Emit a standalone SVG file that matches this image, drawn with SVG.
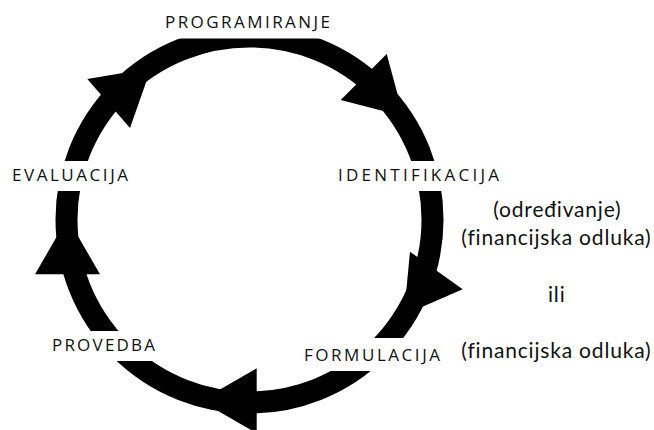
<svg xmlns="http://www.w3.org/2000/svg" width="654" height="430" viewBox="0 0 654 430">
  <style>
    .ring { fill: none; stroke: #000; stroke-width: 22; }
    .head { fill: #000; stroke: none; }
    .bg { fill: #fff; stroke: none; }
    .lbl { font-family: "Open Sans", "Liberation Sans", sans-serif; font-size: 17px; fill: #111; }
    .note { font-family: "Lato", "Liberation Sans", sans-serif; font-size: 21px; fill: #111; font-variant-ligatures: none; }
  </style>
  <rect width="654" height="430" fill="#fff"/>
  <g id="connectors">
    <circle class="ring" cx="249.5" cy="219.5" r="183"/>
    <polygon class="head" points="87.3,79 130,128 151,68.3"/>
    <polygon class="head" points="386.7,54 340.7,100 403.5,116.2"/>
    <polygon class="head" points="410,251.7 462.7,289.3 404,314.7"/>
    <polygon class="head" points="256.7,368.3 256.7,433.3 200.4,400.8"/>
    <polygon class="head" points="35,274.3 100,274.3 67.5,218"/>
  </g>
  <g id="programiranje">
    <rect class="bg" x="155" y="0" width="185" height="38.5"/>
    <text class="lbl" x="165" y="28.3" textLength="165" lengthAdjust="spacing">PROGRAMIRANJE</text>
  </g>
  <g id="identifikacija">
    <rect class="bg" x="330" y="161" width="177" height="30"/>
    <text class="lbl" x="338" y="181" textLength="161" lengthAdjust="spacing">IDENTIFIKACIJA</text>
  </g>
  <g id="formulacija">
    <rect class="bg" x="296" y="338" width="152" height="33"/>
    <text class="lbl" x="304" y="361" textLength="136" lengthAdjust="spacing">FORMULACIJA</text>
  </g>
  <g id="provedba">
    <rect class="bg" x="44" y="331" width="119" height="30"/>
    <text class="lbl" x="52" y="351" textLength="103" lengthAdjust="spacing">PROVEDBA</text>
  </g>
  <g id="evaluacija">
    <rect class="bg" x="4" y="161" width="132" height="30"/>
    <text class="lbl" x="12" y="181" textLength="116" lengthAdjust="spacing">EVALUACIJA</text>
  </g>
  <g id="notes">
    <text class="note" x="493.3" y="216.7" textLength="127.4" lengthAdjust="spacing">(određivanje)</text>
    <text class="note" x="461.3" y="245" textLength="189.4" lengthAdjust="spacing">(financijska odluka)</text>
    <text class="note" x="548" y="301.7" textLength="16.7" lengthAdjust="spacing">ili</text>
    <text class="note" x="461.3" y="358.3" textLength="189.4" lengthAdjust="spacing">(financijska odluka)</text>
  </g>
</svg>
